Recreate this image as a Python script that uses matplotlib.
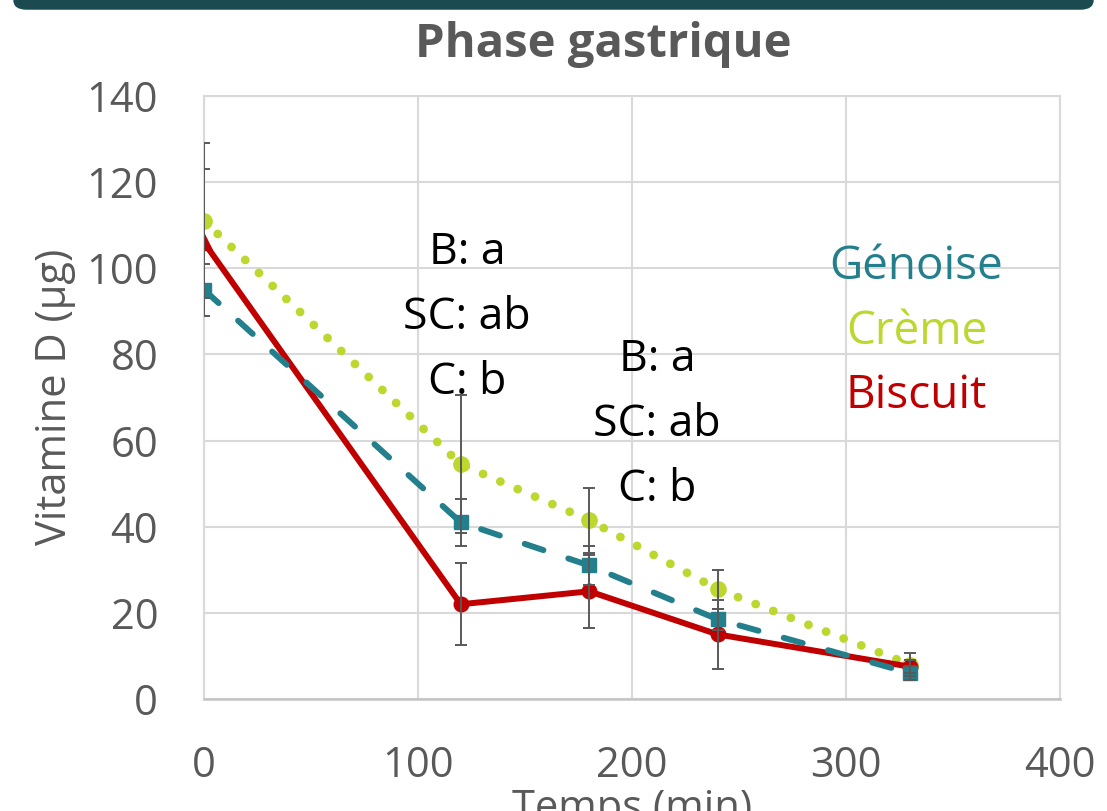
import matplotlib.pyplot as plt
from matplotlib.patches import FancyBboxPatch

plt.rcParams['font.family'] = ['Open Sans', 'DejaVu Sans']

# temps de digestion (min)
temps = [0, 120, 180, 240, 330]

genoise = [95, 41, 31, 18.5, 6]
genoise_err = [6, 5.5, 4.5, 2.5, 1.6]
creme = [111, 54.5, 41.5, 25.5, 8]
creme_err = [18, 16, 7.5, 4.5, 2.7]
biscuit = [106, 22, 25, 15, 7.5]
biscuit_err = [17, 9.5, 8.5, 8, 1.5]

noms = ['Génoise', 'Crème', 'Biscuit']
couleurs = ['#237f8c', '#bdd72f', '#c00000']

lettres_1 = ['B: a', 'SC: ab', 'C: b']
lettres_2 = ['B: a', 'SC: ab', 'C: b']

fig = plt.figure(figsize=(11.07, 8.11), dpi=100)
ax = fig.add_axes([0.1843, 0.1381, 0.7732, 0.7435])

# bandeau du cadre en haut
band = FancyBboxPatch((0.012, 0.988), 0.976, 0.05, boxstyle='round,pad=0,rounding_size=0.012',
                      transform=fig.transFigure, facecolor='#1b4b50', edgecolor='none')
fig.patches.append(band)

gris = '#595959'

ax.plot(temps, creme, color=couleurs[1], lw=6.3, dashes=(0.01, 2.15),
        dash_capstyle='round', marker='o', ms=11, zorder=3)
ax.plot(temps, biscuit, color=couleurs[2], lw=4.3, zorder=3.2)
ax.plot(temps[1:], biscuit[1:], 'o', color=couleurs[2], ms=10.5, zorder=3.2)
ax.plot(temps[:1], biscuit[:1], '^', color=couleurs[2], ms=11, zorder=3.2)
ax.plot(temps, genoise, color=couleurs[0], lw=4.3, dashes=(3.3, 4.4),
        dash_capstyle='round', marker='s', ms=9.5, zorder=3.4)

for vals, err in [(creme, creme_err), (biscuit, biscuit_err), (genoise, genoise_err)]:
    ax.errorbar(temps, vals, yerr=err, fmt='none', ecolor=gris, elinewidth=1.4,
                capsize=4.5, capthick=1.4, zorder=5)

ax.set_xlim(0, 400)
ax.set_ylim(0, 140)
ax.set_xticks(range(0, 401, 100))
ax.set_yticks(range(0, 141, 20))
ax.grid(True, color='#d9d9d9', lw=1.5)
ax.set_axisbelow(True)
for s in ['left', 'top', 'right']:
    ax.spines[s].set_color('#d9d9d9')
    ax.spines[s].set_linewidth(1.5)
ax.spines['bottom'].set_color('#c4c4c4')
ax.spines['bottom'].set_linewidth(1.8)
ax.tick_params(length=0, labelsize=30, labelcolor=gris, pad=33)

for i, t in enumerate(lettres_1):
    ax.text(123, 103.5 - 15 * i, t, ha='center', va='center', fontsize=32, color='black')
for i, t in enumerate(lettres_2):
    ax.text(211.7, 78.7 - 15 * i, t, ha='center', va='center', fontsize=32, color='black')

for i, (n, c) in enumerate(zip(noms, couleurs)):
    ax.text(333, 100.3 - 15 * i, n, ha='center', va='center', fontsize=33, color=c)

fig.text(603 / 1107, 1 - 45 / 811, 'Phase gastrique', ha='center', va='center',
         fontsize=34, fontweight='bold', color=gris)
fig.text(55 / 1107, 1 - 397 / 811, 'Vitamine D (µg)', rotation=90, ha='center',
         va='center', fontsize=30, color=gris)
fig.text(632 / 1107, 1 - 788 / 811, 'Temps (min)', ha='center', va='top',
         fontsize=30, color=gris)

fig.savefig('out.png', dpi=100)
